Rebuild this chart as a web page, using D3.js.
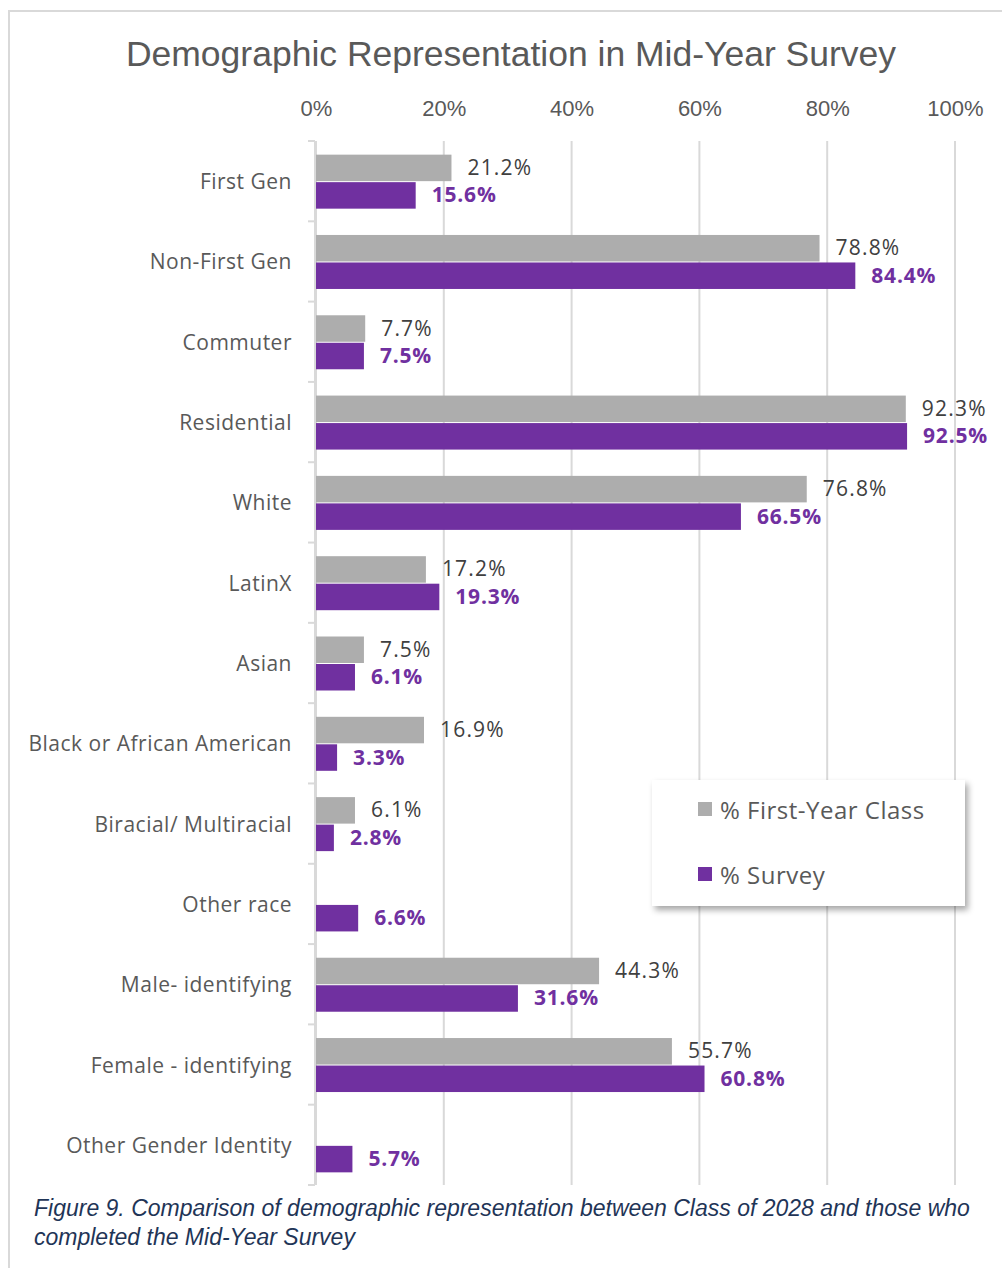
<!DOCTYPE html>
<html>
<head>
<meta charset="utf-8">
<script src="https://cdn.jsdelivr.net/npm/d3@7"></script>
<style>
  html, body { margin: 0; padding: 0; background: #fff; }
  svg { display: block; }
</style>
</head>
<body>
<svg id="chart" width="1002" height="1268"></svg>
<script>
// Demographic groups, top to bottom
const categories = [
  "First Gen", "Non-First Gen", "Commuter", "Residential", "White", "LatinX",
  "Asian", "Black or African American", "Biracial/ Multiracial", "Other race",
  "Male- identifying", "Female - identifying", "Other Gender Identity"
];
// Share of the first-year class (%); null where no figure is reported
const firstYearClass = [21.2, 78.8, 7.7, 92.3, 76.8, 17.2, 7.5, 16.9, 6.1, null, 44.3, 55.7, null];
// Share of survey respondents (%)
const survey = [15.6, 84.4, 7.5, 92.5, 66.5, 19.3, 6.1, 3.3, 2.8, 6.6, 31.6, 60.8, 5.7];
const xTicks = [0, 20, 40, 60, 80, 100];
const seriesNames = ["% First-Year Class", "% Survey"];

const GREY = "#adadad", PURPLE = "#7030a0", TEXT = "#595959";
const SANS = "Open Sans, sans-serif";
const svg = d3.select("#chart");

// outer frame
svg.append("rect").attr("x", 9).attr("y", 11).attr("width", 1010).attr("height", 1300)
  .attr("fill", "none").attr("stroke", "#d9d9d9").attr("stroke-width", 2);

const plot = { left: 316, right: 955, top: 141, bottom: 1185 };

const x = d3.scaleLinear().domain([0, 100]).range([plot.left, plot.right]);
const y = d3.scaleBand().domain(categories).range([plot.top, plot.bottom]);
const bh = y.bandwidth() * 0.33;

// title
svg.append("text").attr("x", 511).attr("y", 66).attr("text-anchor", "middle")
  .attr("font-family", "Liberation Sans, Arial, sans-serif")
  .attr("font-size", 35.5).attr("fill", TEXT)
  .text("Demographic Representation in Mid-Year Survey");

// vertical gridlines
svg.append("g").selectAll("line").data(xTicks).join("line")
  .attr("x1", d => x(d)).attr("x2", d => x(d))
  .attr("y1", plot.top).attr("y2", plot.bottom)
  .attr("stroke", "#d9d9d9").attr("stroke-width", 2);

// top axis labels
const xAxis = d3.axisTop(x).tickValues(xTicks).tickFormat(d => d + "%").tickSize(0);
const gx = svg.append("g").attr("transform", `translate(0,${119})`).call(xAxis);
gx.select(".domain").remove();
gx.selectAll("text").attr("font-family", "Liberation Sans, Arial, sans-serif")
  .attr("font-size", 22).attr("fill", TEXT);

// category axis with outward tick marks at band boundaries
const gy = svg.append("g");
gy.append("line").attr("x1", plot.left - 1).attr("x2", plot.left - 1)
  .attr("y1", plot.top).attr("y2", plot.bottom).attr("stroke", "#d9d9d9").attr("stroke-width", 2);
gy.selectAll("line.tick").data(d3.range(categories.length + 1)).join("line")
  .attr("class", "tick")
  .attr("x1", plot.left - 8).attr("x2", plot.left - 1)
  .attr("y1", i => plot.top + i * y.step()).attr("y2", i => plot.top + i * y.step())
  .attr("stroke", "#d9d9d9").attr("stroke-width", 2);
gy.selectAll("text").data(categories).join("text")
  .attr("x", 292).attr("y", d => y(d) + y.bandwidth() / 2)
  .attr("text-anchor", "end").attr("dominant-baseline", "central")
  .attr("font-family", SANS).attr("font-size", 21).attr("letter-spacing", 0.5).attr("fill", TEXT)
  .text(d => d);

const rows = categories.map((c, i) => ({ c, a: firstYearClass[i], b: survey[i] }));
const mid = c => y(c) + y.bandwidth() / 2;

// first-year class bars + labels
const g1 = rows.filter(r => r.a != null);
svg.append("g").selectAll("rect").data(g1).join("rect")
  .attr("x", x(0)).attr("y", r => mid(r.c) - bh).attr("width", r => x(r.a) - x(0)).attr("height", bh)
  .attr("fill", GREY);
svg.append("g").selectAll("text").data(g1).join("text")
  .attr("x", r => x(r.a) + 16).attr("y", r => mid(r.c) - bh / 2 - 1)
  .attr("dominant-baseline", "central")
  .attr("font-family", SANS).attr("font-size", 21).attr("letter-spacing", 1.2).attr("fill", "#404040")
  .text(r => r.a.toFixed(1) + "%");

// survey bars + labels
const g2 = rows.filter(r => r.b != null);
svg.append("g").selectAll("rect").data(g2).join("rect")
  .attr("x", x(0)).attr("y", r => mid(r.c) + 1).attr("width", r => x(r.b) - x(0)).attr("height", bh)
  .attr("fill", PURPLE);
svg.append("g").selectAll("text").data(g2).join("text")
  .attr("x", r => x(r.b) + 16).attr("y", r => mid(r.c) + bh / 2)
  .attr("dominant-baseline", "central")
  .attr("font-family", SANS).attr("font-size", 21).attr("font-weight", "bold").attr("letter-spacing", 0.8)
  .attr("fill", PURPLE)
  .text(r => r.b.toFixed(1) + "%");

// legend with drop shadow
const defs = svg.append("defs");
const f = defs.append("filter").attr("id", "shadow").attr("x", "-10%").attr("y", "-10%")
  .attr("width", "130%").attr("height", "140%");
f.append("feDropShadow").attr("dx", 3).attr("dy", 4).attr("stdDeviation", 3)
  .attr("flood-color", "#000").attr("flood-opacity", 0.35);
const lg = svg.append("g");
lg.append("rect").attr("x", 652).attr("y", 780).attr("width", 313).attr("height", 126)
  .attr("fill", "#fff").attr("filter", "url(#shadow)");
const legendItems = [{ name: seriesNames[0], color: GREY, yc: 809 }, { name: seriesNames[1], color: PURPLE, yc: 874 }];
lg.selectAll("rect.sw").data(legendItems).join("rect").attr("class", "sw")
  .attr("x", 698).attr("y", d => d.yc - 7).attr("width", 14).attr("height", 14).attr("fill", d => d.color);
lg.selectAll("text").data(legendItems).join("text")
  .attr("x", 720).attr("y", d => d.yc).attr("dominant-baseline", "central")
  .attr("font-family", SANS).attr("font-size", 24).attr("letter-spacing", 0.5).attr("fill", TEXT)
  .text(d => d.name);

// caption
const cap = svg.append("text").attr("font-family", "Liberation Sans, Arial, sans-serif")
  .attr("font-style", "italic").attr("font-size", 23).attr("fill", "#1f3557");
cap.append("tspan").attr("x", 34).attr("y", 1216)
  .text("Figure 9. Comparison of demographic representation between Class of 2028 and those who");
cap.append("tspan").attr("x", 34).attr("y", 1245).text("completed the Mid-Year Survey");
</script>
</body>
</html>
